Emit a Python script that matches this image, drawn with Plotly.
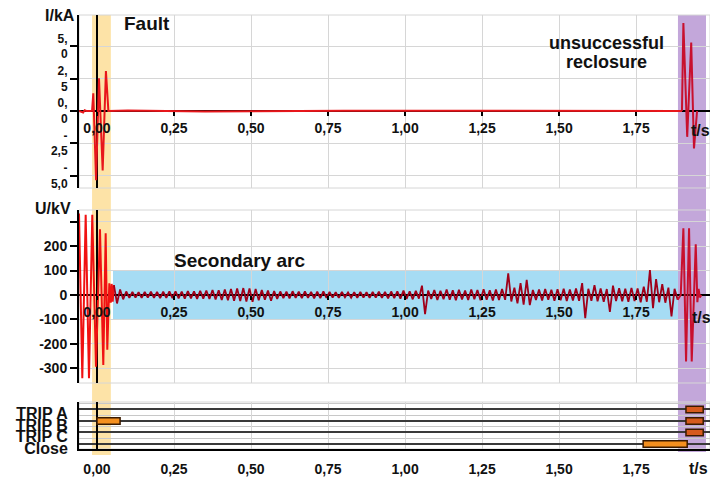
import plotly.graph_objects as go

# ---------------- data ----------------
time_ticks = [0.0, 0.25, 0.5, 0.75, 1.0, 1.25, 1.5, 1.75]

# phase current I (kA) - fault and unsuccessful reclosure
current_fault_t = [-0.0584, -0.045, -0.040, -0.035, -0.020, -0.016, -0.012, -0.003,
                   0.0065, 0.0184, 0.029, 0.037, 0.10, 0.35, 0.80, 1.30, 1.899]
current_fault_kA = [0.0, -0.12, 0.06, 0.0, 0.0, 0.02, 1.37, -5.35,
                    2.53, -4.6, 3.1, 0.0, 0.04, -0.03, 0.02, 0.0, 0.0]
current_reclose_t = [1.899, 1.9036, 1.9160, 1.9290, 1.9380, 1.9480]
current_reclose_kA = [0.0, 6.8, -2.0, 5.3, -2.9, 0.0]

# phase voltage U (kV)
volt_fault_t = [-0.0584, -0.0477, -0.0367, -0.026, -0.0153, -0.0032, 0.0097,
                0.0205, 0.0282, 0.0334, 0.0400, 0.0445, 0.0477, 0.0510]
volt_fault_kV = [334, -341, 328, -341, 328, -294, 269,
                 -287, 253, -225, 48, -32, 45, -28]

# secondary arc: per 50 Hz cycle, peak and trough (kV), sampled every half period
arc_start_s = 0.055
arc_half_period_s = 0.01
arc_peak_kV = [40, 22, 14,
               12, 11, 12, 13, 12, 13, 14,
               15, 14, 16, 15, 17,
               18, 20, 19, 22, 24, 26, 28, 27,
               24, 20, 18, 16,
               14, 13, 15, 13, 14, 12, 13, 14,
               12, 11, 12, 10, 11, 12, 11, 12, 13, 12, 14, 15,
               18, 15, 17,
               38,
               18, 20, 17, 22, 19, 21, 18, 22, 20, 23, 19, 22, 24,
               88,
               30, 48, 62,
               20, 22, 24, 21, 23, 25, 22, 26,
               48,
               25, 40, 26, 24, 38,
               27, 25, 29, 26,
               34, 102, 65, 44, 30, 25]
arc_trough_kV = [-35, -18, -12,
                 -11, -12, -11, -12, -13, -12, -13,
                 -14, -15, -14, -16, -15,
                 -17, -19, -21, -22, -24, -25, -27, -28,
                 -22, -20, -24, -16,
                 -13, -14, -12, -13, -12, -14, -13, -12,
                 -11, -12, -10, -11, -12, -11, -12, -11, -12, -14, -13, -15,
                 -16, -18, -15,
                 -79,
                 -17, -21, -18, -20, -22, -19, -21, -18, -22, -20, -23, -21, -20,
                 -27,
                 -35, -40, -42,
                 -21, -23, -20, -24, -22, -25, -23, -24,
                 -95,
                 -24, -26, -28, -70, -25,
                 -26, -28, -25, -30,
                 -28, -54, -30, -32, -88, -20]

volt_reclose_t = [1.895, 1.9036, 1.9123, 1.9220, 1.9307, 1.9437, 1.949, 1.953, 1.957, 1.962]
volt_reclose_kV = [0, 273, -273, 273, -273, 208, -30, 25, -10, 0]

# breaker commands
signals = ["TRIP A", "TRIP B", "TRIP C", "Close"]
cmd_signal = ["TRIP B", "Close", "TRIP A", "TRIP B", "TRIP C"]
cmd_phase = ["fault", "reclose", "reclose", "reclose", "reclose"]
cmd_start = [0.0, 1.773, 1.912, 1.912, 1.912]
cmd_end = [0.075, 1.916, 1.968, 1.968, 1.968]

# time windows
fault_window = [-0.016, 0.045]
reclose_window = [1.886, 1.977]
arc_window_t = [0.052, 1.886]
arc_window_kV = [-100, 100]

I_ticks = [-5.0, -2.5, 0.0, 2.5, 5.0]
I_ticktext = ["-<br>5,0", "-<br>2,5", "0,<br>0", "2,<br>5", "5,<br>0"]
U_ticks = [-300, -200, -100, 0, 100, 200, 300]
U_ticktext = ["-300", "-200", "-100", "0", "100", "200", ""]

# ---------------- layout geometry / style ----------------
W, H = 710, 477
ML, MR, MT, MB = 79, 0, 15, 28
PW, PH = W - ML - MR, H - MT - MB
FONT = "Liberation Sans, Arial, sans-serif"
GRID = "#d6d6d6"


def paper(xp, yp):
    return (xp - ML) / PW, (H - MB - yp) / PH


def ydom(top_px, bot_px):
    return [(H - MB - bot_px) / PH, (H - MB - top_px) / PH]


X_RANGE = [-0.0584, 1.990]
dom1, dom2, dom3 = ydom(15, 188), ydom(210, 383), ydom(402, 449)
r1, r2, r3 = [-5.96, 7.43], [-361, 348], [-0.435, 3.65]


def zero_pos(dom, rng):
    return dom[0] + (0 - rng[0]) / (rng[1] - rng[0]) * (dom[1] - dom[0])


# build arc series
arc_t, arc_v = [], []
for k, (p, n) in enumerate(zip(arc_peak_kV, arc_trough_kV)):
    arc_t += [arc_start_s + 2 * k * arc_half_period_s,
              arc_start_s + (2 * k + 1) * arc_half_period_s]
    arc_v += [p, n]

fig = go.Figure()

fig.add_trace(go.Scatter(x=current_fault_t, y=current_fault_kA, mode="lines",
                         line=dict(color="#E8161B", width=2), xaxis="x", yaxis="y"))
fig.add_trace(go.Scatter(x=current_reclose_t, y=current_reclose_kA, mode="lines",
                         line=dict(color="#C8102E", width=2), xaxis="x", yaxis="y"))

fig.add_trace(go.Scatter(x=volt_fault_t + [arc_t[0]], y=volt_fault_kV + [arc_v[0]], mode="lines",
                         line=dict(color="#F01212", width=2), xaxis="x2", yaxis="y2"))
fig.add_trace(go.Scatter(x=arc_t, y=arc_v, mode="lines",
                         line=dict(color="#A0001A", width=1.8), xaxis="x2", yaxis="y2"))
fig.add_trace(go.Scatter(x=[arc_t[-1]] + volt_reclose_t, y=[arc_v[-1]] + volt_reclose_kV, mode="lines",
                         line=dict(color="#C8102E", width=2), xaxis="x2", yaxis="y2"))

level = {s: len(signals) - 1 - i for i, s in enumerate(signals)}
LIGHT, DARK = "#F5901F", "#D65A1E"
for sig, ph, s, e in zip(cmd_signal, cmd_phase, cmd_start, cmd_end):
    col = DARK if (ph == "reclose" and sig.startswith("TRIP")) else LIGHT
    fig.add_trace(go.Bar(y=[level[sig]], base=[s], x=[e - s], orientation="h", width=0.55,
                         marker=dict(color=col, line=dict(color="#3a1a00", width=1.5)),
                         xaxis="x3", yaxis="y3"))

shapes = []
# bands crossing all panels
shapes.append(dict(type="rect", xref="x", yref="paper", x0=fault_window[0], x1=fault_window[1],
                   y0=paper(0, 455)[1], y1=1.0, fillcolor="#FDE3A7", line=dict(width=0), layer="below"))
shapes.append(dict(type="rect", xref="x", yref="paper", x0=reclose_window[0], x1=reclose_window[1],
                   y0=paper(0, 452)[1], y1=1.0, fillcolor="#C3A7DA", line=dict(width=0), layer="below"))
shapes.append(dict(type="rect", xref="x2", yref="y2", x0=arc_window_t[0], x1=arc_window_t[1],
                   y0=arc_window_kV[0], y1=arc_window_kV[1], fillcolor="#A6DCF4",
                   line=dict(width=0), layer="below"))
for xa, ya in [("x", "y"), ("x2", "y2"), ("x3", "y3")]:
    shapes.append(dict(type="rect", xref=xa + " domain", yref=ya + " domain", x0=0, x1=1, y0=0, y1=1,
                       line=dict(color=GRID, width=1), fillcolor="rgba(0,0,0,0)", layer="below"))

xcommon = dict(range=X_RANGE, tickvals=time_ticks, tickformat=".2f", showgrid=True,
               gridcolor=GRID, gridwidth=1, zeroline=True, zerolinecolor="black",
               zerolinewidth=2, tickfont=dict(family=FONT, size=14, color="#111", weight="bold"),
               automargin=False, domain=[0, 1])
ycommon = dict(showline=True, linecolor="black", linewidth=2, ticks="outside", ticklen=7,
               tickwidth=2, tickcolor="black", showgrid=True, gridcolor=GRID,
               zeroline=True, zerolinecolor="black", zerolinewidth=2, automargin=False)

annots = []


def note(text, xp, yp, size):
    x, y = paper(xp, yp)
    annots.append(dict(text=text, x=x, y=y, xref="paper", yref="paper", showarrow=False,
                       xanchor="center", yanchor="middle",
                       font=dict(family=FONT, size=size, color="#111", weight="bold")))


note("I/kA", 60, 15, 16)
note("U/kV", 53, 208, 16)
note("Fault", 147, 23, 19)
note("unsuccessful", 606, 43, 18)
note("reclosure", 606, 62, 18)
note("Secondary arc", 239, 260, 19)
note("t/s", 700, 130, 16)
note("t/s", 701, 318, 16)
note("t/s", 698, 468, 16)

fig.update_layout(
    width=W, height=H, autosize=False,
    margin=dict(l=ML, r=MR, t=MT, b=MB, pad=0),
    template="none", paper_bgcolor="white", plot_bgcolor="white",
    showlegend=False, barmode="overlay", separators=",.",
    font=dict(family=FONT, color="#111"),
    xaxis=dict(**xcommon, anchor="free", position=zero_pos(dom1, r1), ticks="outside",
               ticklen=4, tickwidth=2, tickcolor="black", showline=False),
    xaxis2=dict(**xcommon, anchor="free", position=zero_pos(dom2, r2), ticks="outside",
                ticklen=4, tickwidth=2, tickcolor="black", showline=False),
    xaxis3=dict(**xcommon, anchor="y3", showline=True, linecolor="black", linewidth=2,
                ticks="outside", ticklen=6, tickcolor="rgba(0,0,0,0)"),
    yaxis=dict(**ycommon, domain=dom1, range=r1, anchor="x", tickvals=I_ticks, ticktext=I_ticktext,
               tickfont=dict(family=FONT, size=12, color="#111", weight="bold")),
    yaxis2=dict(**ycommon, domain=dom2, range=r2, anchor="x2", tickvals=U_ticks, ticktext=U_ticktext,
                tickfont=dict(family=FONT, size=14, color="#111", weight="bold")),
    yaxis3=dict(domain=dom3, range=r3, anchor="x3", showline=True, linecolor="black", linewidth=2,
                tickvals=[level[s] for s in signals], ticktext=signals, ticks="",
                ticklabelshift=4, ticklabelstandoff=6,
                showgrid=True, gridcolor="#3a3a3a", gridwidth=2, zeroline=False,
                minor=dict(tickvals=[0.5, 1.5, 2.5, 3.5], showgrid=True, gridcolor="#c8c8c8",
                           gridwidth=1, ticks=""),
                tickfont=dict(family=FONT, size=16, color="#111", weight="bold"),
                automargin=False),
    shapes=shapes, annotations=annots,
)

fig.write_html("out.html", config={"displayModeBar": False},
               post_script="document.body.style.margin='0';document.body.style.overflow='hidden';")
